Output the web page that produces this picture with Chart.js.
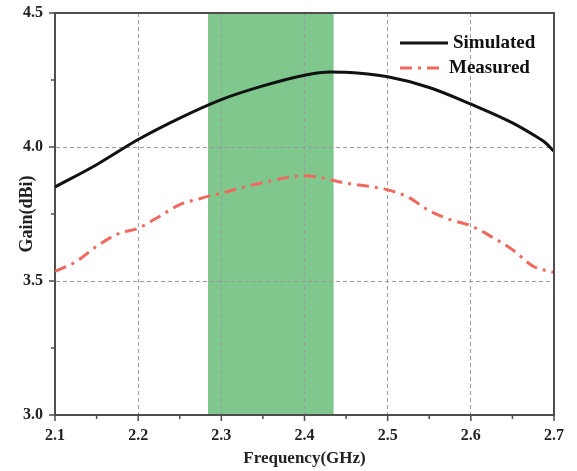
<!DOCTYPE html>
<html><head><meta charset="utf-8">
<script src="https://cdn.jsdelivr.net/npm/chart.js@4/dist/chart.umd.min.js"></script>
<style>html,body{margin:0;padding:0;background:#fff;}</style>
</head><body>
<canvas id="c" width="577" height="471"></canvas>
<script>
// ---- data ----
const seriesNames = ['Simulated', 'Measured'];
const simFreq = [2.10, 2.15, 2.20, 2.25, 2.30, 2.35, 2.40, 2.43, 2.45, 2.50, 2.55, 2.60, 2.65, 2.68, 2.69, 2.70];
const simGain = [3.851, 3.934, 4.028, 4.108, 4.177, 4.228, 4.268, 4.280, 4.279, 4.262, 4.222, 4.160, 4.090, 4.036, 4.015, 3.984];
const measFreq = [2.100, 2.125, 2.150, 2.175, 2.200, 2.225, 2.250, 2.275, 2.300, 2.350, 2.400, 2.450, 2.500, 2.525, 2.550, 2.575, 2.600, 2.625, 2.650, 2.675, 2.700];
const measGain = [3.536, 3.572, 3.629, 3.675, 3.697, 3.740, 3.785, 3.808, 3.828, 3.867, 3.893, 3.865, 3.840, 3.812, 3.762, 3.729, 3.706, 3.665, 3.617, 3.555, 3.532];
const xTickValues = [2.1, 2.2, 2.3, 2.4, 2.5, 2.6, 2.7];
const yTickValues = [3.0, 3.5, 4.0, 4.5];
const bandRange = [2.284, 2.435];
const xTitle = 'Frequency(GHz)';
const yTitle = 'Gain(dBi)';

const AXIS = '#4d4d4d';
const GRID = '#9a9aa2';
const FONT = '"Liberation Serif", "Times New Roman", serif';

function pts(xs, ys) { return xs.map((v, i) => ({ x: v, y: ys[i] })); }
function mids(arr) { const m = []; for (let i = 0; i < arr.length - 1; i++) m.push((arr[i] + arr[i + 1]) / 2); return m; }

const bandPlugin = {
  id: 'band',
  beforeDraw(chart) {
    const { ctx, chartArea: a, scales: { x } } = chart;
    const x1 = x.getPixelForValue(bandRange[0]);
    const x2 = x.getPixelForValue(bandRange[1]);
    ctx.save();
    ctx.fillStyle = '#80c78e';
    ctx.fillRect(x1, a.top, x2 - x1, a.bottom - a.top);
    ctx.restore();
  }
};

const framePlugin = {
  id: 'frame',
  afterDraw(chart) {
    const { ctx, chartArea: a, scales: { x, y } } = chart;
    ctx.save();
    ctx.strokeStyle = AXIS;
    ctx.lineWidth = 2;
    ctx.beginPath();
    ctx.moveTo(a.left, a.top); ctx.lineTo(a.right, a.top); ctx.lineTo(a.right, a.bottom);
    ctx.stroke();
    // tick marks
    ctx.lineWidth = 1.5;
    ctx.beginPath();
    xTickValues.forEach(v => { const p = x.getPixelForValue(v); ctx.moveTo(p, a.bottom); ctx.lineTo(p, a.bottom + 6); });
    mids(xTickValues).forEach(v => { const p = x.getPixelForValue(v); ctx.moveTo(p, a.bottom); ctx.lineTo(p, a.bottom + 4); });
    yTickValues.forEach(v => { const p = y.getPixelForValue(v); ctx.moveTo(a.left, p); ctx.lineTo(a.left - 6, p); });
    mids(yTickValues).forEach(v => { const p = y.getPixelForValue(v); ctx.moveTo(a.left, p); ctx.lineTo(a.left - 4, p); });
    ctx.stroke();
    // legend
    const ds = chart.data.datasets;
    ctx.font = 'bold 19px ' + FONT;
    ctx.textBaseline = 'middle';
    ctx.textAlign = 'left';
    const rows = [
      { y: a.top + 30, x0: a.right - 154, x1: a.right - 106, tx: a.right - 101 },
      { y: a.top + 55, x0: a.right - 154, x1: a.right - 112, tx: a.right - 105 }
    ];
    rows.forEach((r, i) => {
      const d = ds[i];
      ctx.save();
      ctx.strokeStyle = d.borderColor;
      ctx.lineWidth = d.borderWidth;
      ctx.setLineDash(d.borderDash || []);
      ctx.beginPath(); ctx.moveTo(r.x0, r.y); ctx.lineTo(r.x1, r.y); ctx.stroke();
      ctx.restore();
      ctx.fillStyle = '#111';
      ctx.fillText(d.label, r.tx, r.y);
    });
    ctx.restore();
  }
};

new Chart(document.getElementById('c'), {
  type: 'line',
  data: {
    datasets: [
      { label: seriesNames[0], data: pts(simFreq, simGain), borderColor: '#111111', borderWidth: 3,
        pointRadius: 0, tension: 0.4, cubicInterpolationMode: 'monotone', fill: false },
      { label: seriesNames[1], data: pts(measFreq, measGain), borderColor: '#ef6a5e', borderWidth: 3,
        borderDash: [12, 6, 3, 6], pointRadius: 0, tension: 0.4, cubicInterpolationMode: 'monotone', fill: false }
    ]
  },
  options: {
    responsive: false,
    animation: false,
    layout: { padding: { top: 13, right: 23, left: 0, bottom: 0 } },
    plugins: { legend: { display: false }, tooltip: { enabled: false } },
    scales: {
      x: {
        type: 'linear', min: 2.1, max: 2.7,
        afterBuildTicks(s) { s.ticks = xTickValues.map(v => ({ value: v })); },
        afterFit(s) { s.height = 56; s.paddingLeft = 0; s.paddingRight = 0; },
        ticks: { padding: 11, color: '#222', font: { family: FONT, size: 16, weight: 'bold' }, callback: v => v.toFixed(1), maxRotation: 0 },
        grid: { color: GRID, lineWidth: 1, drawTicks: false },
        border: { color: AXIS, width: 2, dash: [4, 3] },
        title: { display: true, text: xTitle, color: '#222', font: { family: FONT, size: 17, weight: 'bold' }, padding: { top: 0, bottom: 2 } }
      },
      y: {
        min: 3.0, max: 4.5,
        afterBuildTicks(s) { s.ticks = yTickValues.map(v => ({ value: v })); },
        afterFit(s) { s.width = 55; s.paddingTop = 0; s.paddingBottom = 0; },
        ticks: { padding: 12, color: '#222', font: { family: FONT, size: 16, weight: 'bold' }, callback: v => v.toFixed(1) },
        grid: { color: GRID, lineWidth: 1, drawTicks: false },
        border: { color: AXIS, width: 2, dash: [4, 3] },
        title: { display: true, text: yTitle, color: '#222', font: { family: FONT, size: 18, weight: 'bold' }, padding: { top: 17, bottom: 0 } }
      }
    }
  },
  plugins: [bandPlugin, framePlugin]
});
</script>
</body></html>
